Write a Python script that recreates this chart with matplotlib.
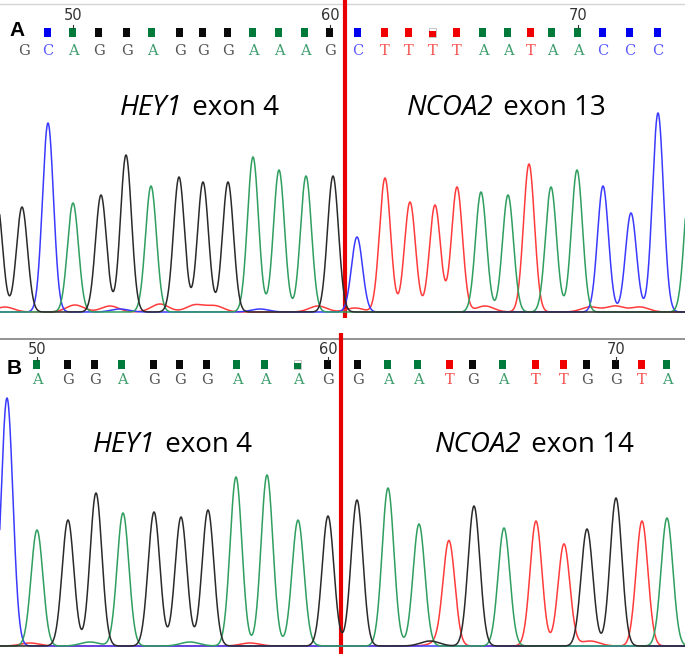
import matplotlib.pyplot as plt
import numpy as np

# === Pannello A: picchi (posizione scan, base, altezza segnale) ===
a_peak_pos = [-3, 22, 48, 73, 101, 126, 151, 179, 203, 228, 253, 279, 306, 333,
              357, 385, 410, 435, 457, 481, 508, 529, 551, 577, 603, 631, 658, 690]
a_peak_base = ['G', 'G', 'C', 'A', 'G', 'G', 'A', 'G', 'G', 'G', 'A', 'A', 'A', 'G',
               'C', 'T', 'T', 'T', 'T', 'A', 'A', 'T', 'A', 'A', 'C', 'C', 'C', 'A']
a_peak_h = [110, 105, 189, 109, 117, 157, 126, 135, 130, 130, 155, 142, 136, 136,
            75, 134, 110, 107, 125, 120, 117, 148, 125, 142, 126, 99, 199, 135]
# rumore di fondo
a_noise_pos = [5, 75, 110, 160, 195, 215, 318, 355, 485, 590, 615, 640, 120, 260]
a_noise_base = ['T', 'T', 'T', 'T', 'T', 'T', 'T', 'T', 'T', 'T', 'T', 'T', 'C', 'C']
a_noise_h = [5, 7, 6, 8, 7, 6, 6, 4, 6, 5, 6, 5, 3, 3]

# basi chiamate pannello A
a_call_pos = [24, 48, 73, 99, 127, 152, 180, 203, 228, 253, 279, 305, 330,
              358, 385, 409, 433, 457, 483, 508, 531, 552, 578, 603, 630, 658]
a_call_base = list("GCAGGAGGGAAAG" + "CTTTTAATAACCC")
a_qv = [0, 1, 1, 1, 1, 1, 1, 1, 1, 1, 1, 1, 1,
        1, 1, 1, 0.6, 1, 1, 1, 1, 1, 1, 1, 1, 1]
a_first_num = 48
a_labels = [('HEY1', ' exon 4'), ('NCOA2', ' exon 13')]

# === Pannello B ===
b_peak_pos = [7, 37, 68, 96, 123, 154, 181, 208, 236, 267, 298, 328,
              357, 388, 419, 449, 474, 504, 536, 564, 587, 616, 642, 667]
b_peak_base = ['C', 'A', 'G', 'G', 'A', 'G', 'G', 'G', 'A', 'A', 'A', 'G',
               'G', 'A', 'A', 'T', 'G', 'A', 'T', 'T', 'G', 'G', 'T', 'A']
b_peak_h = [248, 116, 126, 153, 133, 134, 129, 136, 169, 171, 123, 130,
            146, 158, 122, 103, 140, 118, 125, 102, 117, 148, 125, 128]
b_noise_pos = [90, 190, 300, 430, 440, 590, 30, 250]
b_noise_base = ['A', 'A', 'A', 'G', 'T', 'T', 'T', 'T']
b_noise_h = [4, 4, 3, 5, 4, 5, 3, 3]

b_call_pos = [37, 68, 95, 122, 154, 180, 207, 237, 265, 298, 328,
              358, 388, 418, 450, 473, 503, 536, 564, 587, 616, 642, 667]
b_call_base = list("AGGAGGGAAAG" + "GAATGATTGGTA")
b_qv = [1, 1, 1, 1, 1, 1, 1, 1, 1, 0.6, 1,
        1, 1, 1, 1, 1, 1, 1, 1, 1, 1, 1, 1]
b_first_num = 50
b_labels = [('HEY1', ' exon 4'), ('NCOA2', ' exon 14')]

# === Stili ===
trace_col = {'A': '#2f9e5f', 'C': '#3a3aff', 'G': '#2a2a2a', 'T': '#ff3b3b'}
box_col = {'A': '#007a3a', 'C': '#0000f0', 'G': '#0a0a0a', 'T': '#f00000'}
txt_col = {'A': '#3f9e6e', 'C': '#5a5aff', 'G': '#555555', 'T': '#f85050'}

W, H = 685, 654
fig = plt.figure(figsize=(W / 100, H / 100), dpi=100)
ax0 = fig.add_axes([0, 0, 1, 1])
ax0.set_xlim(0, W)
ax0.set_ylim(H, 0)
ax0.axis('off')


def disegna_tracce(bottom, top, baseline, pos, base, h, npos, nbase, nh, sigma):
    ax = fig.add_axes([0, 1 - bottom / H, 1, (bottom - top) / H])
    ax.set_xlim(0, W)
    ax.set_ylim(-(bottom - baseline), baseline - top)
    ax.axis('off')
    x = np.arange(-20, W + 20, 0.25)
    for ch in ['T', 'C', 'A', 'G']:
        y = np.zeros_like(x)
        for p, b, hh in zip(pos, base, h):
            if b == ch:
                y += hh * np.exp(-(x - p) ** 2 / (2 * sigma ** 2))
        for p, b, hh in zip(npos, nbase, nh):
            if b == ch:
                y += hh * np.exp(-(x - p) ** 2 / (2 * (sigma * 1.6) ** 2))
        ax.plot(x, y, color=trace_col[ch], lw=1.1)
    return ax


def disegna_chiamate(pos, base, qv, first_num, y_num, y_box, y_txt):
    for i, (p, b, q) in enumerate(zip(pos, base, qv)):
        ax0.text(p, y_txt, b, color=txt_col[b], family='DejaVu Serif',
                 fontsize=10.5, ha='center', va='center')
        if q > 0:
            if q < 1:
                ax0.bar(p, -8.5, bottom=y_box + 4.5, width=7, color='white',
                        edgecolor='#bbbbbb', lw=0.6)
            ax0.bar(p, -8.5 * q, bottom=y_box + 4.5, width=7, color=box_col[b], lw=0)
        n = first_num + i
        if n % 10 == 0:
            ax0.plot([p, p], [y_box - 4, y_box - 7], color='#333333', lw=0.8)
            ax0.text(p, y_num, str(n), color='#333333', fontsize=10.5,
                     family='DejaVu Sans', ha='center', va='center')


def etichetta(x_split, y, gene, resto):
    ax0.text(x_split, y, gene, fontsize=20, family='Open Sans', style='italic',
             ha='right', va='baseline')
    ax0.text(x_split + 3, y, resto, fontsize=20, family='Open Sans',
             ha='left', va='baseline')


# === Pannello A ===
ax0.plot([0, W], [4, 4], color='#d5d5d5', lw=1)
disegna_tracce(318, 70, 312, a_peak_pos, a_peak_base, a_peak_h,
               a_noise_pos, a_noise_base, a_noise_h, 5.5)
disegna_chiamate(a_call_pos, a_call_base, a_qv, a_first_num, 15, 32, 51)
ax0.text(17, 31, 'A', fontsize=15, fontweight='bold', family='Liberation Sans',
         ha='center', va='center')
etichetta(182, 115, *a_labels[0])
etichetta(493, 115, *a_labels[1])
ax0.plot([345, 345], [0, 318], color='#e80000', lw=3, solid_capstyle='butt')

# === Pannello B ===
ax0.plot([0, W], [339, 339], color='#8a8a8a', lw=1.3)
disegna_tracce(654, 385, 646, b_peak_pos, b_peak_base, b_peak_h,
               b_noise_pos, b_noise_base, b_noise_h, 5.9)
disegna_chiamate(b_call_pos, b_call_base, b_qv, b_first_num, 350, 364, 380)
ax0.text(14, 368, 'B', fontsize=15, fontweight='bold', family='Liberation Sans',
         ha='center', va='center')
etichetta(155, 452, *b_labels[0])
etichetta(521, 452, *b_labels[1])
ax0.plot([341, 341], [333, 654], color='#e80000', lw=3, solid_capstyle='butt')

fig.savefig('out.png', dpi=100)
